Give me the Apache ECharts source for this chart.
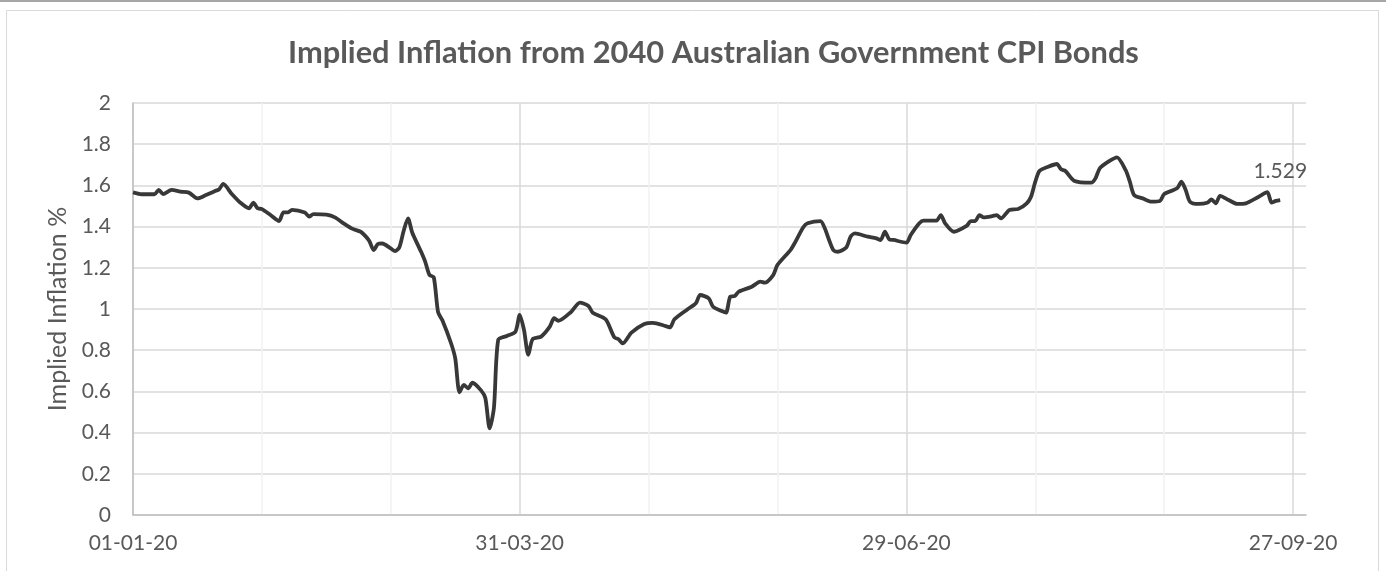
<!DOCTYPE html>
<html>
<head>
<meta charset="utf-8">
<title>Implied Inflation from 2040 Australian Government CPI Bonds</title>
<script src="https://cdn.jsdelivr.net/npm/echarts@6/dist/echarts.min.js"></script>
<style>
  html, body { margin: 0; padding: 0; background: #ffffff; }
  #chart { width: 1386px; height: 571px; }
</style>
</head>
<body>
<div id="chart"></div>
<script>
// Chart text
const chartTitle = 'Implied Inflation from 2040 Australian Government CPI Bonds';
const yAxisName = 'Implied Inflation %';

// Axis ranges
const axisStart = '2020-01-01';
const axisEnd = '2020-09-30';
const labelEveryDays = 90;
const gridEveryDays = 30;
const yMin = 0;
const yMax = 2;
const yStep = 0.2;

// Observation dates and implied inflation (%)
const dates = [
  '2020-01-01','2020-01-03','2020-01-06','2020-01-07','2020-01-08','2020-01-10','2020-01-12','2020-01-14',
  '2020-01-16','2020-01-18','2020-01-20','2020-01-21','2020-01-22','2020-01-24','2020-01-26','2020-01-28',
  '2020-01-29','2020-01-30','2020-01-31','2020-02-02','2020-02-04','2020-02-05','2020-02-06','2020-02-07',
  '2020-02-10','2020-02-11','2020-02-12','2020-02-15','2020-02-17','2020-02-19','2020-02-21','2020-02-23',
  '2020-02-24','2020-02-25','2020-02-26','2020-02-27','2020-02-28','2020-03-01','2020-03-02','2020-03-03',
  '2020-03-04','2020-03-05','2020-03-06','2020-03-08','2020-03-09','2020-03-10','2020-03-11','2020-03-12',
  '2020-03-13','2020-03-15','2020-03-16','2020-03-17','2020-03-18','2020-03-19','2020-03-20','2020-03-22',
  '2020-03-23','2020-03-24','2020-03-25','2020-03-26','2020-03-28','2020-03-30','2020-03-31','2020-04-01',
  '2020-04-02','2020-04-03','2020-04-05','2020-04-07','2020-04-08','2020-04-09','2020-04-12','2020-04-14',
  '2020-04-16','2020-04-17','2020-04-20','2020-04-22','2020-04-23','2020-04-24','2020-04-26','2020-04-29',
  '2020-05-01','2020-05-04','2020-05-05','2020-05-06','2020-05-09','2020-05-11','2020-05-12','2020-05-14',
  '2020-05-15','2020-05-17','2020-05-18','2020-05-19','2020-05-20','2020-05-21','2020-05-24','2020-05-26',
  '2020-05-27','2020-05-29','2020-05-30','2020-06-02','2020-06-03','2020-06-05','2020-06-06','2020-06-09',
  '2020-06-10','2020-06-11','2020-06-12','2020-06-13','2020-06-15','2020-06-16','2020-06-17','2020-06-20',
  '2020-06-22','2020-06-23','2020-06-24','2020-06-25','2020-06-26','2020-06-29','2020-06-30','2020-07-02',
  '2020-07-03','2020-07-06','2020-07-07','2020-07-08','2020-07-10','2020-07-13','2020-07-14','2020-07-15',
  '2020-07-16','2020-07-17','2020-07-19','2020-07-20','2020-07-21','2020-07-23','2020-07-25','2020-07-27',
  '2020-07-28','2020-07-29','2020-07-30','2020-08-01','2020-08-03','2020-08-04','2020-08-05','2020-08-07',
  '2020-08-11','2020-08-12','2020-08-13','2020-08-15','2020-08-17','2020-08-19','2020-08-20','2020-08-21',
  '2020-08-23','2020-08-25','2020-08-27','2020-08-28','2020-08-31','2020-09-01','2020-09-02','2020-09-03',
  '2020-09-05','2020-09-07','2020-09-08','2020-09-09','2020-09-10','2020-09-12','2020-09-14','2020-09-16',
  '2020-09-19','2020-09-21','2020-09-22','2020-09-23','2020-09-24'
];
const values = [
  1.566, 1.557, 1.557, 1.578, 1.558, 1.578, 1.570, 1.565,
  1.537, 1.553, 1.572, 1.580, 1.607, 1.558, 1.516, 1.489,
  1.516, 1.489, 1.485, 1.456, 1.427, 1.469, 1.469, 1.481,
  1.468, 1.448, 1.461, 1.458, 1.445, 1.416, 1.390, 1.375,
  1.356, 1.330, 1.286, 1.315, 1.318, 1.294, 1.281, 1.300,
  1.380, 1.440, 1.370, 1.280, 1.230, 1.165, 1.154, 0.985,
  0.945, 0.835, 0.760, 0.595, 0.632, 0.615, 0.642, 0.605,
  0.568, 0.421, 0.520, 0.850, 0.869, 0.890, 0.971, 0.898,
  0.777, 0.853, 0.866, 0.914, 0.955, 0.943, 0.987, 1.031,
  1.015, 0.982, 0.950, 0.863, 0.853, 0.833, 0.885, 0.927,
  0.933, 0.917, 0.911, 0.950, 0.998, 1.028, 1.068, 1.052,
  1.011, 0.990, 0.982, 1.060, 1.063, 1.084, 1.108, 1.133,
  1.128, 1.165, 1.214, 1.286, 1.320, 1.397, 1.416, 1.427,
  1.392, 1.335, 1.286, 1.278, 1.299, 1.351, 1.367, 1.351,
  1.343, 1.335, 1.375, 1.338, 1.335, 1.322, 1.359, 1.416,
  1.429, 1.429, 1.456, 1.416, 1.375, 1.403, 1.427, 1.427,
  1.456, 1.445, 1.451, 1.456, 1.440, 1.481, 1.485, 1.513,
  1.545, 1.618, 1.671, 1.691, 1.704, 1.678, 1.670, 1.623,
  1.613, 1.634, 1.683, 1.715, 1.736, 1.675, 1.618, 1.553,
  1.537, 1.521, 1.524, 1.558, 1.586, 1.618, 1.578, 1.521,
  1.510, 1.516, 1.532, 1.513, 1.549, 1.529, 1.510, 1.513,
  1.545, 1.567, 1.516, 1.525, 1.529
];

const DAY_MS = 86400000;
const t0 = Date.parse(axisStart);
const dayIndex = d => Math.round((Date.parse(d) - t0) / DAY_MS);
const pad2 = n => (n < 10 ? '0' : '') + n;
const dayLabel = day => {
  const dt = new Date(t0 + day * DAY_MS);
  return pad2(dt.getUTCDate()) + '-' + pad2(dt.getUTCMonth() + 1) + '-' + String(dt.getUTCFullYear()).slice(2);
};

// Line points; the latest reading carries its value label
const lastIdx = values.length - 1;
const lineData = dates.map((d, i) => {
  const point = [dayIndex(d), values[i]];
  if (i === lastIdx) {
    return { value: point, label: { show: true } };
  }
  return point;
});

const FONT = 'Lato, "Open Sans", sans-serif';
const TEXT = '#595959';

const chart = echarts.init(document.getElementById('chart'), null, { renderer: 'canvas' });
chart.setOption({
  animation: false,
  backgroundColor: '#ffffff',
  graphic: [
    { type: 'rect', shape: { x: 0, y: 0, width: 1386, height: 2 }, style: { fill: '#a6a6a6' }, silent: true },
    { type: 'rect', shape: { x: 6.5, y: 10.5, width: 1372, height: 600 }, style: { fill: 'none', stroke: '#d9d9d9', lineWidth: 1 }, silent: true }
  ],
  title: {
    text: chartTitle,
    left: 283,
    top: 33,
    textStyle: { fontFamily: FONT, fontSize: 30.8, fontWeight: 'bold', color: TEXT }
  },
  grid: { left: 133, right: 80, top: 103, bottom: 56, containLabel: false },
  xAxis: {
    type: 'value',
    min: 0,
    max: dayIndex(axisEnd),
    interval: gridEveryDays,
    axisLine: { show: true, lineStyle: { color: '#bfbfbf', width: 1.5 } },
    axisTick: { show: false },
    axisLabel: {
      fontFamily: FONT, fontSize: 21, color: TEXT, margin: 18,
      formatter: v => (v % labelEveryDays === 0 ? dayLabel(v) : '')
    },
    splitLine: {
      show: true,
      showMaxLine: false,
      lineStyle: { color: ['#d9d9d9', '#f2f2f2', '#f2f2f2'], width: 1.5 }
    }
  },
  yAxis: {
    type: 'value',
    min: yMin,
    max: yMax,
    interval: yStep,
    name: yAxisName,
    nameLocation: 'middle',
    nameGap: 62,
    nameRotate: 90,
    nameTextStyle: { fontFamily: FONT, fontSize: 25, color: TEXT },
    axisLine: { show: true, lineStyle: { color: '#bfbfbf', width: 1.5 } },
    axisTick: { show: false },
    axisLabel: { fontFamily: FONT, fontSize: 21, color: TEXT, margin: 22 },
    splitLine: { show: true, lineStyle: { color: '#d9d9d9', width: 1.5 } }
  },
  series: [{
    type: 'line',
    data: lineData,
    smooth: 0.25,
    showSymbol: true,
    showAllSymbol: true,
    symbol: 'circle',
    symbolSize: 0,
    lineStyle: { color: '#383838', width: 3.8 },
    itemStyle: { color: '#383838' },
    label: {
      show: false,
      position: 'top',
      distance: 18,
      fontFamily: FONT,
      fontSize: 21,
      color: TEXT,
      formatter: p => p.value[1].toFixed(3)
    },
    emphasis: { disabled: true }
  }]
});
</script>
</body>
</html>
